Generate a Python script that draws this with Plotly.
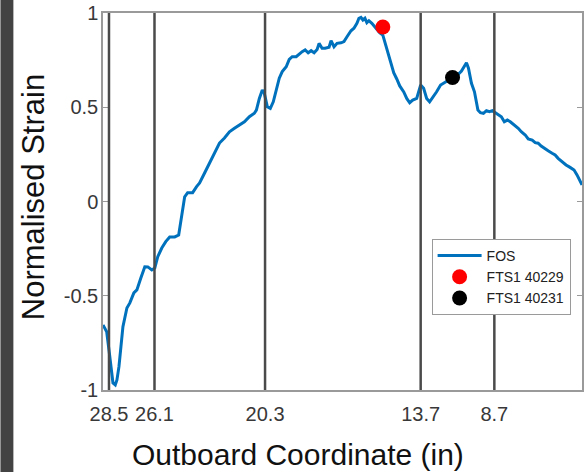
import plotly.graph_objects as go

# ---- data ----
position = [0.0, 0.77, 1.25, 1.66, 2.08, 2.56, 2.91, 3.33, 3.74, 4.16,
            4.99, 5.61, 6.44, 7.07, 7.90, 8.73, 9.36, 10.19, 10.81, 11.43,
            12.27, 13.10, 13.93, 14.97, 15.80, 16.42, 17.05, 17.67, 18.71, 19.54,
            20.17, 21.21, 22.25, 23.28, 24.32, 25.36, 26.40, 27.44, 28.48, 29.52,
            30.56, 31.60, 32.02, 32.64, 33.26, 33.68, 34.30, 34.93, 35.55, 36.17,
            36.80, 37.42, 38.25, 38.88, 39.50, 40.33, 40.96, 41.58, 42.20, 42.83,
            43.45, 44.07, 44.70, 45.11, 45.74, 46.36, 47.19, 47.61, 48.23, 48.86,
            49.69, 50.31, 50.94, 51.77, 52.39, 53.01, 53.43, 53.85, 54.26, 54.68,
            55.09, 55.51, 56.13, 56.96, 57.80, 58.42, 58.84, 59.46, 60.08, 60.71,
            61.33, 61.95, 62.79, 63.41, 64.03, 64.66, 65.49, 66.32, 66.94, 67.57,
            68.19, 69.02, 69.65, 70.48, 71.31, 72.14, 73.18, 74.22, 74.84, 75.47,
            75.88, 76.30, 76.92, 77.55, 77.96, 78.27, 78.79, 79.42, 80.04, 80.67,
            81.29, 81.91, 82.54, 83.16, 83.78, 84.41, 85.03, 85.86, 86.69, 87.32,
            88.15, 88.77, 89.60, 90.23, 90.85, 91.48, 92.10, 92.93, 93.76, 94.39,
            95.01, 95.84, 96.67, 97.51, 98.34, 98.96, 99.58, 100.0]

strain = [-0.655, -0.691, -0.788, -0.894, -0.963, -0.973, -0.947, -0.876, -0.751, -0.664,
          -0.565, -0.538, -0.485, -0.469, -0.406, -0.346, -0.347, -0.363, -0.353, -0.293,
          -0.247, -0.213, -0.188, -0.188, -0.178, -0.081, 0.025, 0.047, 0.047, 0.079,
          0.098, 0.151, 0.204, 0.263, 0.310, 0.337, 0.370, 0.388, 0.406, 0.423,
          0.450, 0.468, 0.485, 0.547, 0.592, 0.574, 0.503, 0.494, 0.529, 0.592,
          0.654, 0.689, 0.715, 0.754, 0.768, 0.768, 0.782, 0.795, 0.804, 0.789,
          0.800, 0.789, 0.807, 0.839, 0.813, 0.813, 0.818, 0.853, 0.821, 0.839,
          0.842, 0.848, 0.874, 0.906, 0.919, 0.945, 0.972, 0.977, 0.963, 0.972,
          0.949, 0.959, 0.945, 0.919, 0.895, 0.883, 0.848, 0.786, 0.733, 0.682,
          0.650, 0.613, 0.581, 0.547, 0.524, 0.538, 0.547, 0.618, 0.601, 0.547,
          0.529, 0.556, 0.582, 0.618, 0.630, 0.645, 0.660, 0.676, 0.692, 0.724,
          0.736, 0.707, 0.627, 0.582, 0.529, 0.485, 0.471, 0.468, 0.482, 0.476,
          0.482, 0.471, 0.464, 0.450, 0.423, 0.432, 0.423, 0.406, 0.388, 0.370,
          0.353, 0.332, 0.326, 0.312, 0.309, 0.294, 0.282, 0.269, 0.256, 0.247,
          0.229, 0.211, 0.194, 0.181, 0.167, 0.141, 0.114, 0.088]

fts_names = ["FTS1 40229", "FTS1 40231"]
fts_position = [58.42, 72.97]
fts_strain = [0.926, 0.658]

tick_position = [1.25, 10.75, 33.83, 66.32, 81.70]
tick_label = ["28.5", "26.1", "20.3", "13.7", "8.7"]
ytick_vals = [-1, -0.5, 0, 0.5, 1]
ytick_text = ["-1", "-0.5", "0", "0.5", "1"]

FONT = "Arial, Liberation Sans, sans-serif"

fig = go.Figure()
fig.add_trace(go.Scatter(x=position, y=strain, mode="lines", name="FOS",
                         line=dict(color="#0072BD", width=3)))
fig.add_trace(go.Scatter(x=[fts_position[0]], y=[fts_strain[0]], mode="markers",
                         name=fts_names[0], marker=dict(color="#ff0000", size=15)))
fig.add_trace(go.Scatter(x=[fts_position[1]], y=[fts_strain[1]], mode="markers",
                         name=fts_names[1], marker=dict(color="#000000", size=15)))

# vertical reference lines at the labelled coordinates
for xp in tick_position:
    fig.add_shape(type="line", xref="x", yref="paper", x0=xp, x1=xp, y0=0, y1=1,
                  line=dict(color="#4a4a4a", width=2.5), layer="above")

# dark strip on the left edge of the picture
fig.add_shape(type="rect", xref="paper", yref="paper",
              x0=-0.2141, x1=-0.1871, y0=-0.3, y1=1.1,
              fillcolor="#434343", line=dict(width=0), layer="below")

fig.add_annotation(text="Outboard Coordinate (in)", xref="paper", yref="paper",
                   x=0.4075, y=-0.171, xanchor="center", yanchor="middle",
                   showarrow=False, font=dict(family=FONT, size=30, color="#111111"))
fig.add_annotation(text="Normalised Strain", xref="paper", yref="paper",
                   x=-0.1435, y=0.512, xanchor="center", yanchor="middle",
                   textangle=-90, showarrow=False,
                   font=dict(family=FONT, size=31, color="#111111"))

axis_common = dict(showline=True, linecolor="#9a9a9a", linewidth=1.5, mirror="ticks",
                   ticks="inside", ticklen=5, tickcolor="#9a9a9a", showgrid=False,
                   zeroline=False, tickfont=dict(family=FONT, size=20, color="#383838"))

fig.update_layout(
    width=585, height=472,
    margin=dict(l=103, r=1, t=13, b=82),
    paper_bgcolor="white", plot_bgcolor="white",
    showlegend=True,
    legend=dict(x=0.686, y=0.4005, xanchor="left", yanchor="top",
                bgcolor="white", bordercolor="#9a9a9a", borderwidth=1,
                font=dict(family=FONT, size=14, color="#222222"),
                itemwidth=44, tracegroupgap=0),
    xaxis=dict(range=[0, 100], tickvals=tick_position, ticktext=tick_label,
               ticklabelstandoff=5, **axis_common),
    yaxis=dict(range=[-1, 1], tickvals=ytick_vals, ticktext=ytick_text,
               ticklabelstandoff=-1, **axis_common),
)

fig.write_html("out.html",
               config={"displayModeBar": False},
               post_script="document.body.style.margin='0px';"
                           "document.body.style.overflow='hidden';")
